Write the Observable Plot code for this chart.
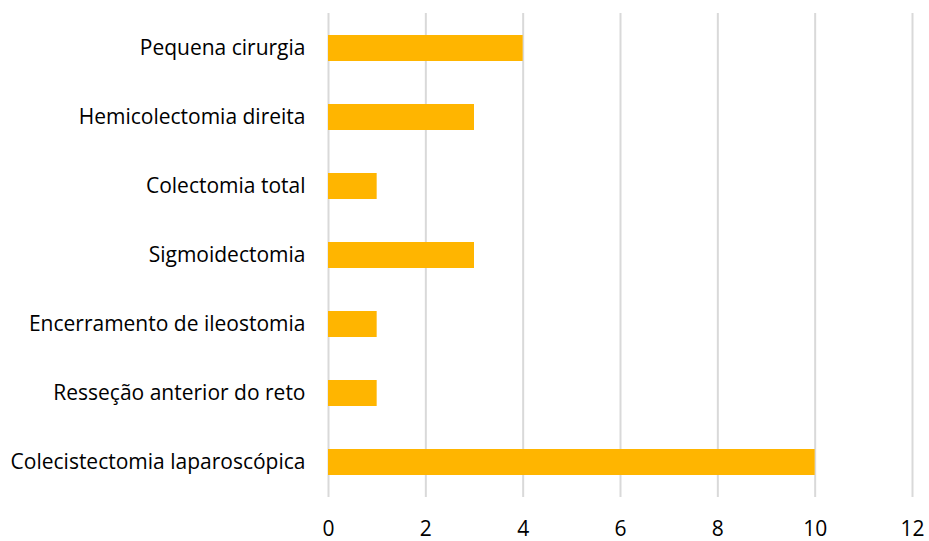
<!DOCTYPE html>
<html>
<head>
<meta charset="utf-8">
<script src="https://cdn.jsdelivr.net/npm/d3@7"></script>
<script src="https://cdn.jsdelivr.net/npm/@observablehq/plot@0.6"></script>
<style>
  html, body { margin: 0; padding: 0; background: #fff; }
  #chart svg { display: block; }
</style>
</head>
<body>
<div id="chart"></div>
<script>
const categories = [
  "Pequena cirurgia",
  "Hemicolectomia direita",
  "Colectomia total",
  "Sigmoidectomia",
  "Encerramento de ileostomia",
  "Resseção anterior do reto",
  "Colecistectomia laparoscópica"
];
const values = [4, 3, 1, 3, 1, 1, 10];
const xTicks = [0, 2, 4, 6, 8, 10, 12];

const data = categories.map((c, i) => ({category: c, value: values[i]}));

const chart = Plot.plot({
  width: 929,
  height: 541,
  marginLeft: 328,
  marginRight: 17,
  marginTop: 13,
  marginBottom: 44,
  style: {fontFamily: "'Open Sans', 'Noto Sans', sans-serif", fontSize: "21px", color: "#000", background: "#fff"},
  x: {domain: [0, 12], ticks: xTicks, tickSize: 0, tickPadding: 24, label: null},
  y: {domain: categories, paddingInner: 0.63, paddingOuter: 0.315, tickSize: 0, tickPadding: 23, label: null},
  marks: [
    Plot.ruleX(xTicks, {stroke: "#d9d9d9", strokeWidth: 2}),
    Plot.barX(data, {y: "category", x: "value", fill: "#FFB500"})
  ]
});
document.getElementById("chart").appendChild(chart);
</script>
</body>
</html>
